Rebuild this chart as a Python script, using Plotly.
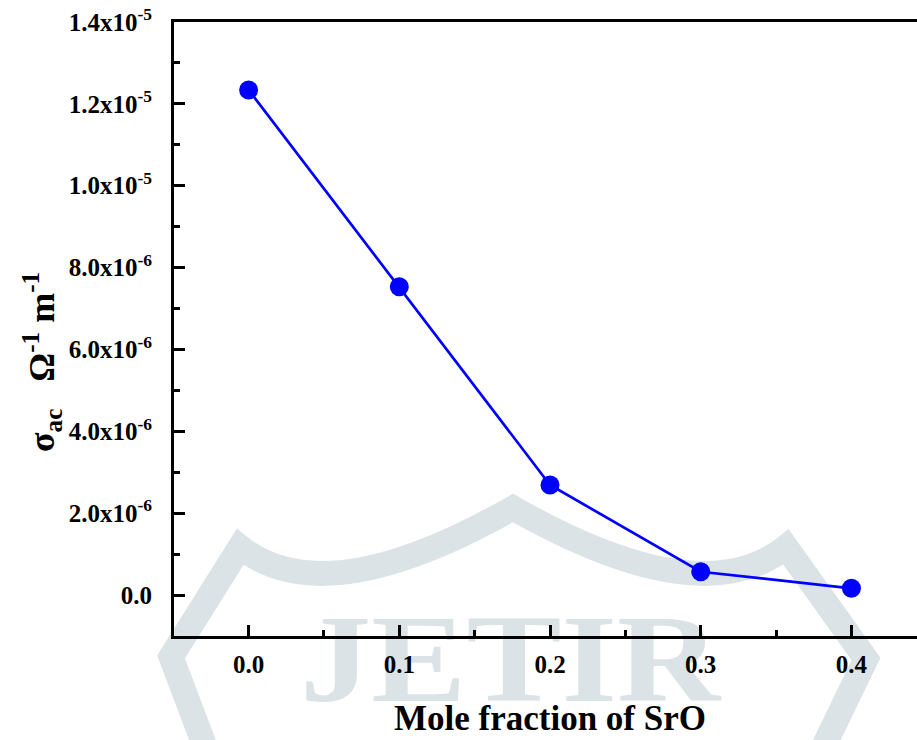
import base64
import plotly.graph_objects as go

# ---- data ----
mole_fraction = [0.0, 0.1, 0.2, 0.3, 0.4]
sigma_ac = [1.234e-5, 7.53e-6, 2.69e-6, 0.57e-6, 0.165e-6]

x_tick_vals = [0.0, 0.1, 0.2, 0.3, 0.4]
x_tick_text = ["0.0", "0.1", "0.2", "0.3", "0.4"]
y_tick_vals = [0.0, 2e-6, 4e-6, 6e-6, 8e-6, 1.0e-5, 1.2e-5, 1.4e-5]
y_tick_text = ["0.0", "2.0x10<sup>-6</sup>", "4.0x10<sup>-6</sup>", "6.0x10<sup>-6</sup>",
               "8.0x10<sup>-6</sup>", "1.0x10<sup>-5</sup>", "1.2x10<sup>-5</sup>",
               "1.4x10<sup>-5</sup>"]
x_title = "Mole fraction of SrO"
y_title = "σ<sub>ac</sub>\u00a0\u00a0\u00a0Ω<sup>-1</sup>\u00a0m<sup>-1</sup>"
watermark_text = "JETIR"

# ---- layout geometry ----
W, H = 917, 740
L, R, T, B = 174, 0, 22, 104
PW, PH = W - L - R, H - T - B


def px(xp):
    return (xp - L) / PW


def py(yp):
    return (H - B - yp) / PH


FONT = "Liberation Serif, Times New Roman, serif"
WM = "#dce3e7"

svg = f'''<svg xmlns="http://www.w3.org/2000/svg" width="{W}" height="{H}" viewBox="0 0 {W} {H}">
<path d="M207,752 L171,657 L240,547 Q325,615 513,508 Q701,615 786,547 L866,659 L821,752" fill="none" stroke="{WM}" stroke-width="25" stroke-linejoin="miter" stroke-miterlimit="10"/>
<text x="510" y="701" font-family="Liberation Serif, Times New Roman, serif" font-weight="bold" font-size="124" fill="{WM}" text-anchor="middle" textLength="420" lengthAdjust="spacingAndGlyphs">{watermark_text}</text>
</svg>'''
svg_uri = "data:image/svg+xml;base64," + base64.b64encode(svg.encode("utf-8")).decode("ascii")

fig = go.Figure()
fig.add_trace(go.Scatter(
    x=mole_fraction, y=sigma_ac, mode="lines+markers",
    line=dict(color="#0000ff", width=2.7),
    marker=dict(color="#0000ff", size=19),
    showlegend=False, hoverinfo="skip",
))

axis_common = dict(
    showgrid=False, zeroline=False, showline=True, linecolor="black", linewidth=3,
    ticks="inside", ticklen=11, tickwidth=2.5, tickcolor="black",
    tickfont=dict(family=FONT, size=25, color="black", weight="bold"),
)

fig.update_layout(
    width=W, height=H,
    margin=dict(l=L, r=R, t=T, b=B, pad=0),
    paper_bgcolor="white", plot_bgcolor="rgba(0,0,0,0)",
    xaxis=dict(range=[-0.0495, 0.4435], tickvals=x_tick_vals, ticktext=x_tick_text,
               mirror=True, ticklabelstandoff=4,
               minor=dict(dtick=0.05, tick0=0, ticks="inside", ticklen=6, tickwidth=2.5,
                          tickcolor="black"),
               **axis_common),
    yaxis=dict(range=[-1e-6, 1.4e-5], tickvals=y_tick_vals, ticktext=y_tick_text,
               ticklabelstandoff=14,
               minor=dict(dtick=1e-6, tick0=0, ticks="inside", ticklen=6, tickwidth=2.5,
                          tickcolor="black"),
               **axis_common),
    images=[dict(source=svg_uri, xref="paper", yref="paper", x=px(0), y=py(0),
                 sizex=W / PW, sizey=H / PH, xanchor="left", yanchor="top",
                 sizing="stretch", layer="below")],
    annotations=[
        dict(text=x_title, xref="paper", yref="paper", x=px(550), y=py(740),
             xanchor="center", yanchor="bottom", showarrow=False,
             font=dict(family=FONT, size=35, color="black", weight="bold")),
        dict(text=y_title, xref="paper", yref="paper", x=px(42), y=py(362),
             xanchor="center", yanchor="middle", showarrow=False, textangle=-90,
             font=dict(family=FONT, size=36, color="black", weight="bold")),
    ],
)

fig.write_html("out.html")
